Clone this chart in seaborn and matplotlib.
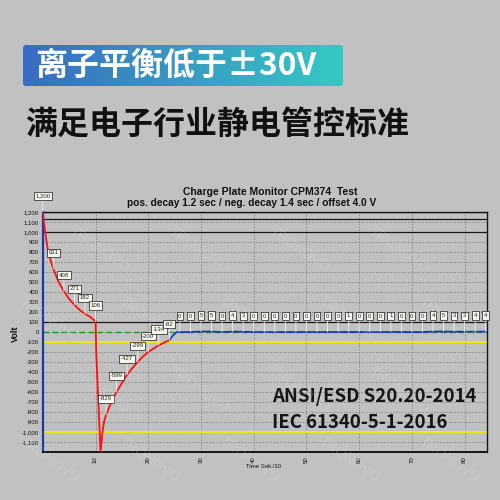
import numpy as np
import pandas as pd
import seaborn as sns
import matplotlib.pyplot as plt
from matplotlib.patches import FancyBboxPatch
from matplotlib.colors import LinearSegmentedColormap
from matplotlib.ticker import FuncFormatter

# red trace: positive decay, then negative charge and its decay
red_t = [0, 0.4, 1.0, 2, 3, 4, 5, 6, 7, 8, 9, 9.8, 10.0, 10.15, 10.95, 11.3, 11.6,
         12, 13, 14, 15, 16, 17, 18, 19, 20, 21, 22, 23, 24]
red_v = [1200, 1020, 800, 631, 500, 408, 330, 271, 220, 182, 150, 115, 106, -230, -1195,
         -1010, -900, -829, -700, -599, -510, -427, -360, -299, -245, -200, -165, -134, -105, -82]

# blue trace: offset after the decay
blue_t = [24, 24.6, 25.4, 26, 28, 30, 32, 34, 36, 38, 40, 42, 44, 46, 48, 50, 52, 54, 56,
          58, 60, 62, 64, 66, 68, 70, 72, 74, 76, 78, 80, 82, 84]
blue_v = [-82, -40, 0, 0, 0, 5, 5, 0, 4, 3, 0, 0, 0, 0, 0, 0, 0, 0, 0, 1, 0, 0, 0, 1,
          0, 0, 0, 4, 5, 3, 3, 4, 4]

# labelled readings
lab_t = [0, 2, 4, 6, 8, 10, 12, 14, 16, 18, 20, 22, 24]
lab_v = [1200, 631, 408, 271, 182, 106, -829, -599, -427, -299, -200, -134, -82]
box_t = blue_t[3:]
box_v = blue_v[3:]

# reference lines
black_lines = [1200, 1130, 1000, 100]
yellow_lines = [-100, -1000]

BG = '#c1c1c1'
CJK = ['Noto Sans CJK SC', 'DejaVu Sans']

sns.set_theme(style='white')
plt.rcParams['font.family'] = ['Liberation Sans', 'DejaVu Sans']

fig = plt.figure(figsize=(5, 5), dpi=100, facecolor=BG)

# header banner with gradient
hax = fig.add_axes([0.046, 0.828, 0.64, 0.082])
hax.set_xlim(0, 320)
hax.set_ylim(0, 41)
hax.axis('off')
cmap = LinearSegmentedColormap.from_list('hdr', ['#3a6cc1', '#35c9c4'])
im = hax.imshow(np.linspace(0, 1, 256).reshape(1, -1), cmap=cmap, aspect='auto',
                extent=[0, 320, 0, 41])
clip = FancyBboxPatch((0, 0), 320, 41, boxstyle='round,pad=0,rounding_size=3',
                      transform=hax.transData, fc='none', ec='none')
hax.add_patch(clip)
im.set_clip_path(clip)

fig.text(0.07, 0.868, '离子平衡低于±30V', color='white', fontsize=23, fontweight='bold',
         family=CJK, va='center', ha='left')
fig.text(0.05, 0.75, '满足电子行业静电管控标准', color='#111111', fontsize=23,
         fontweight='bold', family=CJK, va='center', ha='left')

# chart
ax = fig.add_axes([0.0856, 0.096, 0.888, 0.48])
ax.set_facecolor(BG)
ax.set_xlim(0, 84.2)
ax.set_ylim(-1200, 1200)

ax.set_yticks(np.arange(-1100, 1300, 100))
ax.yaxis.set_major_formatter(FuncFormatter(lambda v, p: f'{int(v):,}'))
ax.set_xticks(np.arange(10, 90, 10))
ax.tick_params(axis='y', labelsize=4.3, length=2, width=0.5, pad=1, colors='#111111')
ax.tick_params(axis='x', labelsize=4.3, length=0, pad=3, labelrotation=90, colors='#111111')
ax.grid(True, color='#777777', lw=0.6, ls=(0, (1.5, 2)))

for y in black_lines:
    ax.axhline(y, color='#1a1a1a', lw=0.9, zorder=2)
for y in yellow_lines:
    ax.axhline(y, color='#f2ee00', lw=1.3, zorder=2)
ax.axhline(0, color='#1a9a1a', lw=1.0, ls=(0, (4, 2.5)), zorder=2)

red = pd.DataFrame({'t': red_t, 'v': red_v})
blue = pd.DataFrame({'t': blue_t, 'v': blue_v})
sns.lineplot(data=red, x='t', y='v', ax=ax, color='#ff1010', lw=1.3, zorder=4)
sns.lineplot(data=blue, x='t', y='v', ax=ax, color='#1530c8', lw=1.2, zorder=3)

for s in ['top', 'right', 'bottom']:
    ax.spines[s].set_color('#151515')
    ax.spines[s].set_linewidth(1.0)
ax.spines['left'].set_color('#1a3aa8')
ax.spines['left'].set_linewidth(1.6)
ax.spines['bottom'].set_linewidth(1.4)
ax.set_xlabel('')
ax.set_ylabel('')

box = dict(boxstyle='square,pad=0.28', fc='#f6f6ef', ec='#1a1a1a', lw=0.5)
lead = dict(arrowstyle='-', color='#efefef', lw=0.6, shrinkA=0, shrinkB=0)
for t, v in zip(lab_t, lab_v):
    ax.annotate(f'{v:,}', xy=(t, v), xytext=(0, 16), textcoords='offset pixels',
                ha='center', va='center', fontsize=4.3, bbox=box, arrowprops=lead,
                annotation_clip=False, zorder=6)
for t, v in zip(box_t, box_v):
    ax.annotate(f'{v}', xy=(t, v), xytext=(0, 16), textcoords='offset pixels',
                ha='center', va='center', fontsize=4.3, bbox=box, arrowprops=lead,
                annotation_clip=False, zorder=6)

fig.text(0.366, 0.6166, 'Charge Plate Monitor CPM374  Test', fontsize=7.5,
         fontweight='bold', ha='left', va='center', color='#111111')
fig.text(0.254, 0.594, 'pos. decay 1.2 sec / neg. decay 1.4 sec / offset 4.0 V', fontsize=7.3,
         fontweight='bold', ha='left', va='center', color='#111111')
fig.text(0.03, 0.332, 'Volt', rotation=90, fontsize=6.5, fontweight='bold',
         ha='center', va='center', color='#111111')
fig.text(0.528, 0.068, 'Time Sek./10', fontsize=4.3, ha='center', va='center',
         color='#111111')

fig.text(0.544, 0.208, 'ANSI/ESD S20.20-2014', fontsize=13.4, family=CJK,
         fontweight='bold', ha='left', va='center', color='#151515', zorder=7)
fig.text(0.544, 0.1546, 'IEC 61340-5-1-2016', fontsize=13.4, family=CJK,
         fontweight='bold', ha='left', va='center', color='#151515', zorder=7)

# faint watermark
for i, yy in enumerate(np.arange(0.08, 0.62, 0.14)):
    for xx in np.arange(0.1 + 0.1 * (i % 2), 0.92, 0.2):
        fig.text(xx, yy, 'TRONOVO', rotation=-35, fontsize=10, color='white',
                 alpha=0.15, ha='center', va='center', zorder=8)

fig.savefig('out.png', dpi=100, facecolor=BG)
